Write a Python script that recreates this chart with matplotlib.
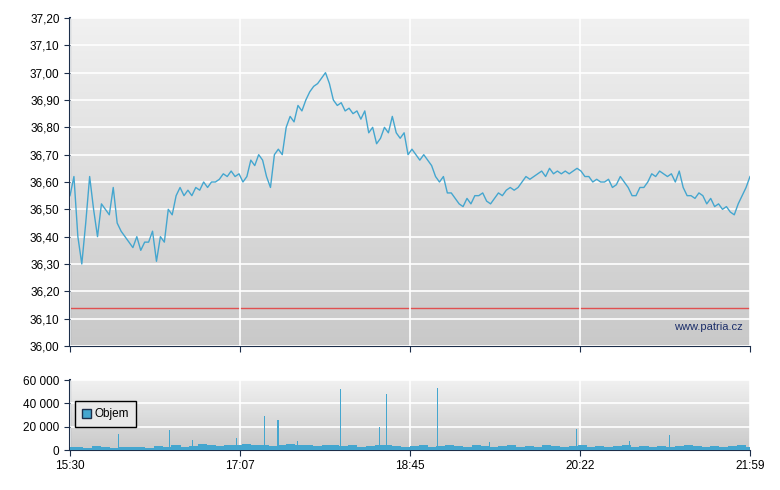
import numpy as np
import matplotlib
matplotlib.use('Agg')
import matplotlib.pyplot as plt
from matplotlib.ticker import FuncFormatter

plt.rcParams['font.family'] = ['Liberation Sans', 'DejaVu Sans']

# price, sampled every ~2.3 minutes from 15:30
price = [36.55, 36.62, 36.40, 36.30, 36.45, 36.62, 36.50, 36.40, 36.52, 36.50, 36.48, 36.58,
         36.45, 36.42, 36.40, 36.38, 36.36, 36.40, 36.35, 36.38, 36.38, 36.42, 36.31, 36.40,
         36.38, 36.50, 36.48, 36.55, 36.58, 36.55, 36.57, 36.55, 36.58, 36.57, 36.60, 36.58,
         36.60, 36.60, 36.61, 36.63, 36.62, 36.64, 36.62, 36.63, 36.60, 36.62, 36.68, 36.66,
         36.70, 36.68, 36.62, 36.58, 36.70, 36.72, 36.70, 36.80, 36.84, 36.82, 36.88, 36.86,
         36.90, 36.93, 36.95, 36.96, 36.98, 37.00, 36.96, 36.90, 36.88, 36.89, 36.86, 36.87,
         36.85, 36.86, 36.83, 36.86, 36.78, 36.80, 36.74, 36.76, 36.80, 36.78, 36.84, 36.78,
         36.76, 36.78, 36.70, 36.72, 36.70, 36.68, 36.70, 36.68, 36.66, 36.62, 36.60, 36.62,
         36.56, 36.56, 36.54, 36.52, 36.51, 36.54, 36.52, 36.55, 36.55, 36.56, 36.53, 36.52,
         36.54, 36.56, 36.55, 36.57, 36.58, 36.57, 36.58, 36.60, 36.62, 36.61, 36.62, 36.63,
         36.64, 36.62, 36.65, 36.63, 36.64, 36.63, 36.64, 36.63, 36.64, 36.65, 36.64, 36.62,
         36.62, 36.60, 36.61, 36.60, 36.60, 36.61, 36.58, 36.59, 36.62, 36.60, 36.58, 36.55,
         36.55, 36.58, 36.58, 36.60, 36.63, 36.62, 36.64, 36.63, 36.62, 36.63, 36.60, 36.64,
         36.58, 36.55, 36.55, 36.54, 36.56, 36.55, 36.52, 36.54, 36.51, 36.52, 36.50, 36.51,
         36.49, 36.48, 36.52, 36.55, 36.58, 36.62]
ref_price = 36.14

# volume: baseline per ~5 minutes, plus spikes (minute, volume)
vol_base = [3000, 2500, 2000, 3500, 2500, 2000, 3000, 2500, 3000, 2000, 3500, 3000, 4000, 3000,
            3500, 5000, 4000, 3500, 4500, 4000, 5000, 4000, 4500, 3500, 4000, 5000, 4500, 4000,
            3500, 4000, 4500, 3500, 4000, 3000, 3500, 4000, 4500, 3500, 3000, 3500, 4000, 3000,
            3500, 4000, 3500, 3000, 4000, 3500, 3000, 3500, 4000, 3000, 3500, 3000, 4000, 3500,
            3000, 3500, 4000, 3000, 3500, 3000, 3500, 4000, 3000, 3500, 3000, 3500, 3000, 3500,
            4000, 3500, 3000, 3500, 3000, 3500, 4000, 3000]
spike_min = [28, 57, 111, 119, 155, 177, 181, 210, 290, 343, 70, 130, 95, 240, 320]
spike_vol = [14000, 17000, 29000, 26000, 52000, 20000, 48000, 53000, 18000, 13000,
             9000, 8000, 10000, 7000, 8000]

xticks = [0, 97.25, 194.5, 291.75, 389]
xlabels = ['15:30', '17:07', '18:45', '20:22', '21:59']

t_price = np.linspace(0, 389, len(price))
t_vol = np.linspace(0, 389, len(vol_base))

fig = plt.figure(figsize=(7.8, 4.9), dpi=100)
ax = fig.add_axes([70/780, 1-346/490, 680/780, 328/490])
axv = fig.add_axes([70/780, 1-450/490, 680/780, 70/490])

navy = '#1c2e4a'
line_c = '#44a6cf'
grad = np.linspace(0, 1, 256).reshape(-1, 1)
cmap = matplotlib.colors.LinearSegmentedColormap.from_list('bg', ['#f1f1f1', '#c9c9c9'])

for a, ylo, yhi in [(ax, 36.0, 37.2), (axv, 0, 60000)]:
    a.imshow(grad, aspect='auto', cmap=cmap, extent=[0, 389, ylo, yhi], origin='upper', zorder=0)
    a.set_xlim(0, 389)
    a.set_ylim(ylo, yhi)
    a.grid(color='white', linewidth=1.2, zorder=1)
    a.set_axisbelow(False)
    for s in ['top', 'right', 'bottom']:
        a.spines[s].set_visible(False)
    a.spines['left'].set_color(navy)
    a.spines['left'].set_linewidth(1.5)
    a.set_xticks(xticks)
    a.tick_params(colors=navy, labelsize=8.5, length=4, labelcolor='black')

ax.set_yticks(np.arange(36.0, 37.21, 0.1))
ax.yaxis.set_major_formatter(FuncFormatter(lambda v, p: f'{v:.2f}'.replace('.', ',')))
ax.set_xticklabels([])
ax.axhline(ref_price, color='#e05050', linewidth=1, zorder=2)
ax.plot(t_price, price, color=line_c, linewidth=1, zorder=3)
ax.text(385, 36.07, 'www.patria.cz', ha='right', va='center', fontsize=8, color='#1c2e6a', zorder=4)
ax.spines['bottom'].set_visible(True)
ax.spines['bottom'].set_color(navy)

axv.set_yticks([0, 20000, 40000, 60000])
axv.yaxis.set_major_formatter(FuncFormatter(lambda v, p: f'{int(v):,}'.replace(',', ' ')))
axv.set_xticklabels(xlabels)
axv.spines['bottom'].set_visible(True)
axv.spines['bottom'].set_color(navy)
axv.bar(t_vol, vol_base, width=5.2, color=line_c, zorder=3, linewidth=0)
axv.bar(spike_min, spike_vol, width=0.6, color=line_c, zorder=3, linewidth=0)
leg = axv.legend(handles=[matplotlib.patches.Patch(facecolor=line_c, edgecolor=navy, label='Objem')],
                 loc='upper left', bbox_to_anchor=(-0.002, 0.78), fontsize=8.5, fancybox=False,
                 handlelength=0.8, handleheight=0.8, handletextpad=0.3, borderpad=0.6)
leg.get_frame().set_edgecolor('black')
leg.get_frame().set_facecolor('#e8e8e8')
leg.get_frame().set_alpha(1)
leg.set_zorder(5)

fig.savefig('out.png', dpi=100)
